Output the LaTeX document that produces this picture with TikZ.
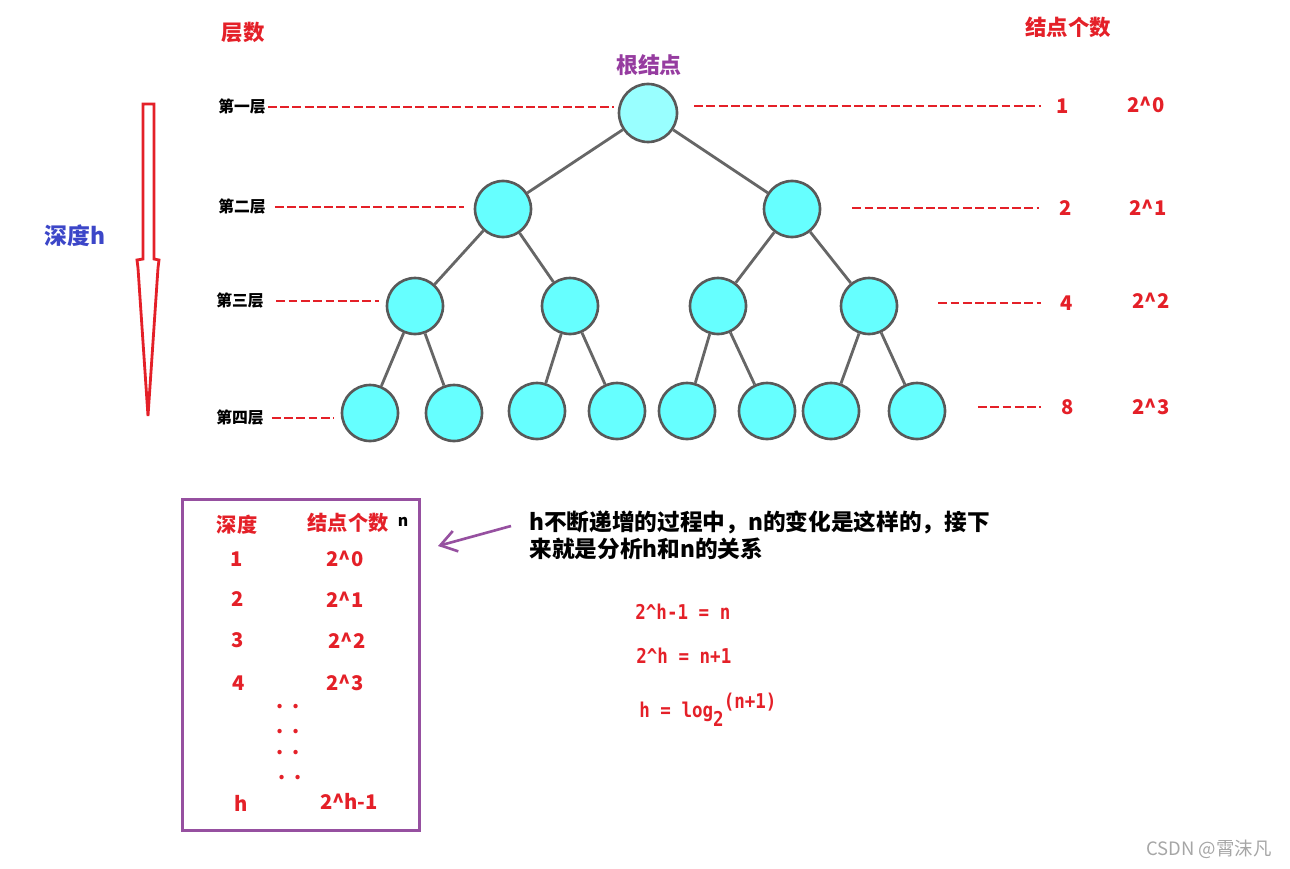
\documentclass[tikz,border=0pt]{standalone}
\usepackage{fontspec}
\setmainfont{Noto Sans CJK SC}
\newfontfamily\eqfont{DejaVu Sans Mono}[FakeStretch=0.86]
\usetikzlibrary{arrows.meta}
\definecolor{cnred}{RGB}{228,32,40}
\definecolor{rootcyan}{RGB}{153,255,255}
\definecolor{leafcyan}{RGB}{102,255,255}
\definecolor{boxpurple}{RGB}{150,80,160}
\definecolor{rootpurple}{RGB}{150,60,160}
\definecolor{depthblue}{RGB}{60,70,200}
\newcommand{\pw}{\textasciicircum}

\begin{document}
\begin{tikzpicture}[x=0.02cm, y=-0.02cm,
  leaf/.style={circle, draw=black!65, line width=1.5pt, fill=leafcyan, minimum size=1.12cm, inner sep=0pt},
  edge/.style={draw=black!60, line width=1.6pt},
  lvl/.style={font=\bfseries\fontsize{9}{10}\selectfont, inner sep=1pt},
  guide/.style={draw=cnred, line width=0.7pt, dash pattern=on 5pt off 2pt},
  num/.style={text=cnred, font=\bfseries\fontsize{11.5}{12}\selectfont, inner sep=1pt},
  head/.style={text=cnred, font=\bfseries\fontsize{12.2}{12}\selectfont},
  eq/.style={text=cnred, anchor=west, inner sep=0pt, font=\eqfont\bfseries\fontsize{11.6}{12}\selectfont}]
  \useasboundingbox (0,0) rectangle (1290,868);
  % headings
  \node[head] (hlvl) at (243,32) {层数};
  \node[head] (hcnt) at (1068,27) {结点个数};
  \node[text=rootpurple, font=\bfseries\fontsize{12.5}{12}\selectfont] (hroot) at (649,65) {根结点};
  \node[text=depthblue, font=\bfseries\fontsize{13}{14}\selectfont] (hdepth) at (75,236) {深度h};
  \draw[draw=cnred, line width=1.6pt, line join=miter] (143,104) -- (154,104) -- (154,259) -- (159,260) -- (158,268) -- (148,416) -- (138,268) -- (137,260) -- (143,259) -- cycle;

  % tree
  \node[leaf, fill=rootcyan, minimum size=1.16cm] (n1) at (648,113) {};
  \node[leaf] (n21) at (503,209) {};   \node[leaf] (n22) at (792,209) {};
  \node[leaf] (n31) at (415,306) {};   \node[leaf] (n32) at (570,306) {};
  \node[leaf] (n33) at (718,306) {};   \node[leaf] (n34) at (869,306) {};
  \node[leaf] (n41) at (370,413) {};   \node[leaf] (n42) at (454,413) {};
  \node[leaf] (n43) at (537,411) {};   \node[leaf] (n44) at (617,411) {};
  \node[leaf] (n45) at (687,411) {};   \node[leaf] (n46) at (767,411) {};
  \node[leaf] (n47) at (831,411) {};   \node[leaf] (n48) at (917,411) {};
  \draw[edge] (n1) -- (n21);   \draw[edge] (n1) -- (n22);
  \draw[edge] (n21) -- (n31);  \draw[edge] (n21) -- (n32);
  \draw[edge] (n22) -- (n33);  \draw[edge] (n22) -- (n34);
  \draw[edge] (n31) -- (n41);  \draw[edge] (n31) -- (n42);
  \draw[edge] (n32) -- (n43);  \draw[edge] (n32) -- (n44);
  \draw[edge] (n33) -- (n45);  \draw[edge] (n33) -- (n46);
  \draw[edge] (n34) -- (n47);  \draw[edge] (n34) -- (n48);

  % levels and counts
  \node[lvl] (l1) at (242,107) {第一层};
  \node[lvl] (l2) at (242,207) {第二层};
  \node[lvl] (l3) at (240,301) {第三层};
  \node[lvl] (l4) at (240,418) {第四层};
  \node[num] (c1) at (1063,106) {1};   \node[num] (p1) at (1146,105) {2\pw0};
  \node[num] (c2) at (1066,208) {2};   \node[num] (p2) at (1148,208) {2\pw1};
  \node[num] (c3) at (1067,303) {4};   \node[num] (p3) at (1151,301) {2\pw2};
  \node[num] (c4) at (1068,407) {8};   \node[num] (p4) at (1151,407) {2\pw3};
  \draw[guide, shorten >=2.3pt] (l1.east) -- (l1.east -| n1.west);
  \draw[guide, shorten <=9pt, shorten >=8pt] (n1.east |- c1.west) -- (c1.west);
  \draw[guide, shorten <=4pt, shorten >=5.7pt] (l2.east) -- (l2.east -| n21.west);
  \draw[guide, shorten <=17.6pt, shorten >=10.8pt] (n22.east |- c2.west) -- (c2.west);
  \draw[guide, shorten <=6pt, shorten >=4pt] (l3.east) -- (l3.east -| n31.west);
  \draw[guide, shorten <=22.7pt, shorten >=10.2pt] (n34.east |- c3.west) -- (c3.west);
  \draw[guide, shorten <=3.4pt, shorten >=4pt] (l4.east) -- (l4.east -| n41.west);
  \draw[guide, shorten <=18pt, shorten >=10.8pt] (n48.east |- c4.west) -- (c4.west);

  % table
  \node[draw=boxpurple, line width=1.7pt, minimum width=4.76cm, minimum height=6.64cm] (tbl) at (301,665) {};
  \node[num] (td) at (237,525) {深度};
  \node[num] (tc) at (348,523) {结点个数};
  \node[font=\bfseries\fontsize{9}{9}\selectfont] (tn) at (403,522) {n};
  \node[num] (d1) at (237,559) {1};   \node[num] (e1) at (345,559) {2\pw0};
  \node[num] (d2) at (238,599) {2};   \node[num] (e2) at (345,600) {2\pw1};
  \node[num] (d3) at (238,640) {3};   \node[num] (e3) at (347,641) {2\pw2};
  \node[num] (d4) at (239,683) {4};   \node[num] (e4) at (345,683) {2\pw3};
  \node[num] (dot1) at (288,707) {.\hspace{5pt}.};
  \node[num] (dot2) at (288,732) {.\hspace{5pt}.};
  \node[num] (dot3) at (288,753) {.\hspace{5pt}.};
  \node[num] (dot4) at (290,778) {.\hspace{5pt}.};
  \node[num] (dh) at (241,803) {h};   \node[num] (eh) at (349,801) {2\pw h-1};

  % note and formulas
  \node[anchor=west, align=left, inner sep=0pt, font=\bfseries\fontsize{12.9}{15.3}\selectfont] (txt) at (529,535) {h不断递增的过程中，n的变化是这样的，接下\\来就是分析h和n的关系};
  \coordinate (tail) at (511,526);
  \coordinate (tip) at (438,546);
  \draw[draw=boxpurple, line width=1.5pt, -{Straight Barb[length=9pt, width=12pt]}] (tail) -- (tip);
  \node[eq] (eq1) at (635,612) {2\pw h-1 = n};
  \node[eq] (eq2) at (636,656) {2\pw h = n+1};
  \node[eq] (eq3) at (639,710) {h = log\raisebox{-5pt}{2}\raisebox{5pt}{(n+1)}};
  \node[text=black!35, font=\fontsize{10.5}{12}\selectfont] (wm) at (1209,849) {CSDN @霄沫凡};
\end{tikzpicture}
\end{document}
